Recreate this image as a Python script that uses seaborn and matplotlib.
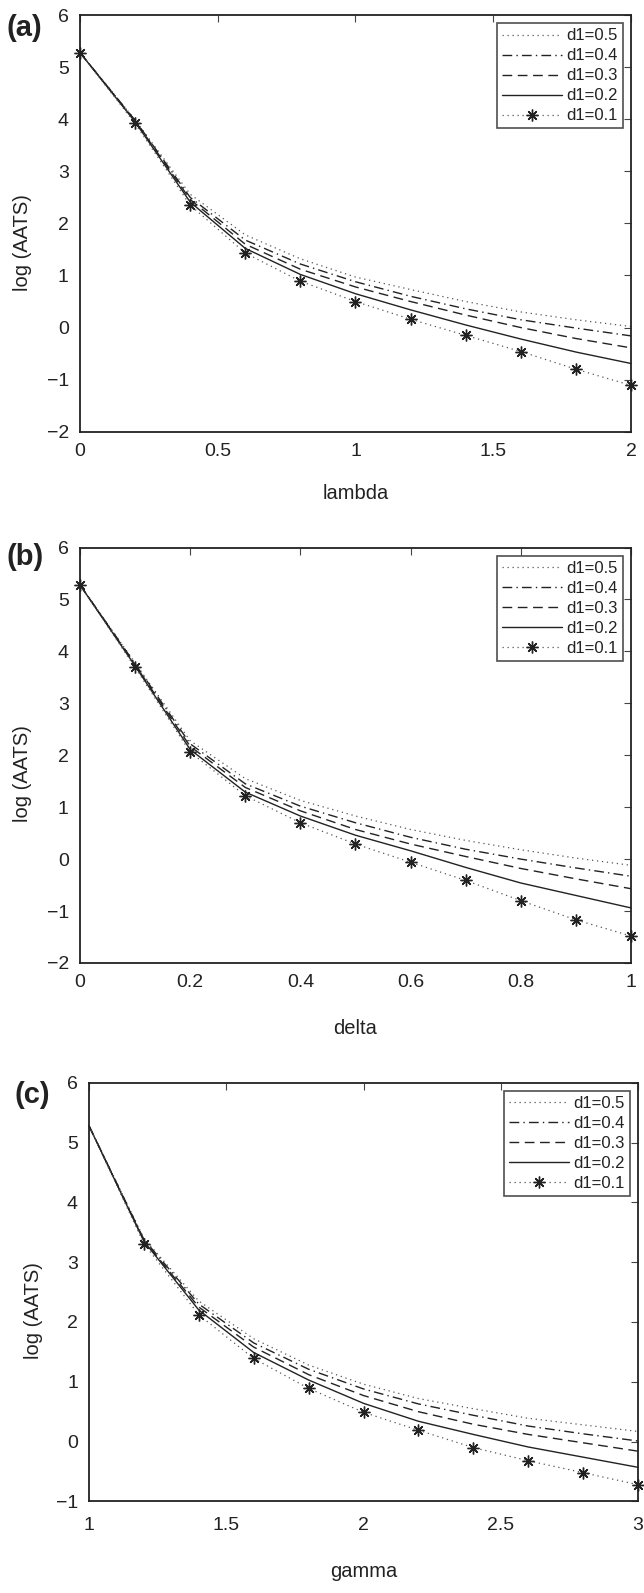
import matplotlib
matplotlib.use("Agg")
import matplotlib.pyplot as plt
import seaborn as sns

# x values for the three panels
lam = [0.0, 0.2, 0.4, 0.6, 0.8, 1.0, 1.2, 1.4, 1.6, 1.8, 2.0]
delta = [0.0, 0.1, 0.2, 0.3, 0.4, 0.5, 0.6, 0.7, 0.8, 0.9, 1.0]
gamma = [1.0, 1.2, 1.4, 1.6, 1.8, 2.0, 2.2, 2.4, 2.6, 2.8, 3.0]

labels = ["d1=0.5", "d1=0.4", "d1=0.3", "d1=0.2", "d1=0.1"]

# (a) log(AATS) vs lambda
a_d05 = [5.28, 3.99, 2.56, 1.78, 1.32, 0.97, 0.73, 0.50, 0.30, 0.15, 0.02]
a_d04 = [5.28, 3.98, 2.50, 1.68, 1.22, 0.88, 0.60, 0.36, 0.15, -0.01, -0.16]
a_d03 = [5.28, 3.97, 2.46, 1.60, 1.12, 0.78, 0.50, 0.24, 0.00, -0.21, -0.39]
a_d02 = [5.28, 3.95, 2.41, 1.52, 1.02, 0.65, 0.34, 0.05, -0.22, -0.47, -0.69]
a_d01 = [5.28, 3.92, 2.35, 1.43, 0.89, 0.50, 0.16, -0.15, -0.46, -0.80, -1.11]

# (b) log(AATS) vs delta
b_d05 = [5.28, 3.78, 2.28, 1.55, 1.13, 0.83, 0.57, 0.36, 0.18, 0.02, -0.12]
b_d04 = [5.28, 3.76, 2.22, 1.45, 1.02, 0.70, 0.42, 0.19, 0.00, -0.17, -0.33]
b_d03 = [5.28, 3.74, 2.17, 1.38, 0.93, 0.57, 0.29, 0.05, -0.18, -0.38, -0.57]
b_d02 = [5.28, 3.72, 2.11, 1.29, 0.83, 0.46, 0.16, -0.16, -0.46, -0.70, -0.94]
b_d01 = [5.28, 3.69, 2.06, 1.22, 0.70, 0.29, -0.06, -0.41, -0.80, -1.17, -1.48]

# (c) log(AATS) vs gamma
c_d05 = [5.28, 3.40, 2.35, 1.72, 1.28, 0.96, 0.72, 0.55, 0.39, 0.28, 0.17]
c_d04 = [5.28, 3.38, 2.30, 1.65, 1.21, 0.88, 0.63, 0.44, 0.26, 0.13, 0.01]
c_d03 = [5.28, 3.36, 2.25, 1.58, 1.12, 0.77, 0.50, 0.29, 0.12, -0.02, -0.16]
c_d02 = [5.28, 3.35, 2.20, 1.49, 1.03, 0.64, 0.34, 0.12, -0.09, -0.26, -0.43]
c_d01 = [5.28, 3.31, 2.12, 1.39, 0.89, 0.49, 0.19, -0.10, -0.32, -0.52, -0.72]

sns.set_theme(style="white")
plt.rcParams["font.family"] = ["Liberation Sans", "DejaVu Sans"]
plt.rcParams["axes.edgecolor"] = "#222222"
plt.rcParams["axes.linewidth"] = 1.3

line_styles = [
    dict(linestyle=(0, (1, 3)), color="#555555", linewidth=0.9),
    dict(linestyle=(0, (7, 3, 1, 3)), color="#222222", linewidth=1.0),
    dict(linestyle=(0, (7, 4)), color="#222222", linewidth=1.0),
    dict(linestyle="-", color="#222222", linewidth=1.0),
    dict(linestyle=(0, (1, 3)), color="#555555", linewidth=0.9,
         marker=(8, 2, 0), markersize=8.5, markeredgecolor="#222222",
         markeredgewidth=1.0),
]


def draw_panel(ax, x, series, xlabel, xlim, ylim, xticks, yticks,
               xlab_y, ylab_x, tick_pad=8, skip_first=False):
    for y, lab, st in zip(series, labels, line_styles):
        st = dict(st)
        if skip_first and "marker" in st:
            st["markevery"] = slice(1, None)
        sns.lineplot(x=x, y=y, ax=ax, label=lab, **st)
    ax.set_xlim(*xlim)
    ax.set_ylim(*ylim)
    ax.set_xticks(xticks)
    ax.set_yticks(yticks)
    ax.set_xticklabels([f"{t:g}".replace("-", "\u2212") for t in xticks])
    ax.set_yticklabels([f"{t:g}".replace("-", "\u2212") for t in yticks])
    ax.tick_params(direction="in", top=True, right=True, length=5,
                   width=0.8, color="#444444", labelsize=14, pad=8,
                   labelcolor="#222222")
    ax.tick_params(axis="x", pad=tick_pad)
    ax.set_xlabel(xlabel, fontsize=14.5, color="#222222")
    ax.set_ylabel("log (AATS)", fontsize=14.5, color="#222222")
    ax.xaxis.set_label_coords(0.5, xlab_y)
    ax.yaxis.set_label_coords(ylab_x, 0.455)
    ax.xaxis.label.set_va("center")
    ax.yaxis.label.set_va("center")
    leg = ax.legend(loc="upper right", fontsize=12, frameon=True, fancybox=False,
                    handlelength=3.6, handletextpad=0.25, labelspacing=0.3,
                    borderpad=0.3, borderaxespad=0.5, markerfirst=True)
    leg.get_frame().set_edgecolor("#222222")
    leg.get_frame().set_linewidth(1.2)
    for t in leg.get_texts():
        t.set_color("#222222")


fig = plt.figure(figsize=(6.44, 15.93), dpi=100)
ax_a = fig.add_axes([0.1242, 0.729, 0.8556, 0.2615])
ax_b = fig.add_axes([0.1242, 0.3955, 0.8556, 0.2608])
ax_c = fig.add_axes([0.1382, 0.0575, 0.8525, 0.2628])

draw_panel(ax_a, lam, [a_d05, a_d04, a_d03, a_d02, a_d01], "lambda",
           (0, 2), (-2, 6), [0, 0.5, 1, 1.5, 2], list(range(-2, 7)),
           xlab_y=-0.149, ylab_x=-0.105)
draw_panel(ax_b, delta, [b_d05, b_d04, b_d03, b_d02, b_d01], "delta",
           (0, 1), (-2, 6), [0, 0.2, 0.4, 0.6, 0.8, 1], list(range(-2, 7)),
           xlab_y=-0.158, ylab_x=-0.105)
draw_panel(ax_c, gamma, [c_d05, c_d04, c_d03, c_d02, c_d01], "gamma",
           (1, 3), (-1, 6), [1, 1.5, 2, 2.5, 3], list(range(-1, 7)),
           xlab_y=-0.168, ylab_x=-0.102, tick_pad=11, skip_first=True)

# panel tags
for tag, ypix, xpix in [("(a)", 28, 7), ("(b)", 557, 7), ("(c)", 1095, 15)]:
    fig.text(xpix / 644, 1 - ypix / 1593, tag, fontsize=21, fontweight="bold",
             color="#222222", ha="left", va="center")

for ax in (ax_a, ax_b, ax_c):
    for line in ax.lines:
        line.set_clip_on(False)

fig.savefig("out.png", dpi=100)
